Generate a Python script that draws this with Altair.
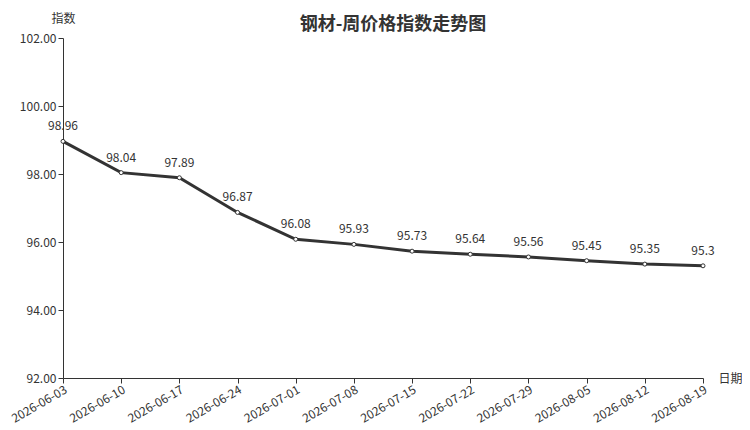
import altair as alt
import pandas as pd

dates = ["2026-06-03", "2026-06-10", "2026-06-17", "2026-06-24", "2026-07-01", "2026-07-08",
         "2026-07-15", "2026-07-22", "2026-07-29", "2026-08-05", "2026-08-12", "2026-08-19"]
values = [98.96, 98.04, 97.89, 96.87, 96.08, 95.93, 95.73, 95.64, 95.56, 95.45, 95.35, 95.3]
y_ticks = [92, 94, 96, 98, 100, 102]

df = pd.DataFrame({"date": dates, "value": values})
FONT = "Noto Sans CJK SC"
C = "#333333"

x = alt.X("date:O", sort=None,
          scale=alt.Scale(type="point", padding=0),
          axis=alt.Axis(title="日期", labelAngle=-30, labelFontSize=12, labelColor=C,
                        labelPadding=1,
                        domainColor=C, tickColor=C, titleAngle=0, titleX=667, titleY=0,
                        titleAlign="center", titleBaseline="middle", titleFontSize=12,
                        titleFontWeight="normal", titleColor=C))
y = alt.Y("value:Q",
          scale=alt.Scale(domain=[92, 102], nice=False, zero=False),
          axis=alt.Axis(title="指数", values=y_ticks, format=".2f", grid=False,
                        labelFontSize=12, labelColor=C, domainColor=C, tickColor=C,
                        titleAngle=0, titleX=0, titleY=-20, titleAlign="center",
                        titleBaseline="middle", titleFontSize=12, titleFontWeight="normal",
                        titleColor=C))

base = alt.Chart(df).encode(x=x, y=y)
line = base.mark_line(color=C, strokeWidth=3)
pts = base.mark_point(filled=True, fill="white", stroke=C, strokeWidth=1, size=16, opacity=1)
txt = base.mark_text(baseline="bottom", dy=-8, fontSize=12, color=C, font=FONT).encode(text="value:Q")

chart = (line + pts + txt).properties(
    width=640, height=340,
    autosize=alt.AutoSizeParams(type="none"),
    padding={"left": 55, "top": 30, "right": 39, "bottom": 54},
    title=alt.TitleParams("钢材-周价格指数走势图", fontSize=18, fontWeight="bold", color=C,
                          font=FONT, anchor="middle", dx=10, dy=28, offset=6),
).configure(font=FONT).configure_view(stroke=None)

chart.save("out.html", embed_options={"renderer": "svg", "actions": False})
